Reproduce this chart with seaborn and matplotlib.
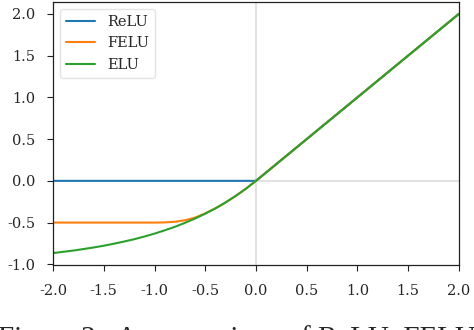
import matplotlib
matplotlib.use("Agg")
import matplotlib.pyplot as plt
import seaborn as sns
import pandas as pd

# ---- data ----
relu_x = [-2.0, 0.0, 2.0]
relu_y = [0.0, 0.0, 2.0]

neg_x = [-2.0, -1.9, -1.8, -1.7, -1.6, -1.5, -1.4, -1.3, -1.2, -1.1, -1.0,
         -0.9, -0.8, -0.7, -0.6, -0.5, -0.4, -0.3, -0.2, -0.1, 0.0, 2.0]
elu_y = [-0.865, -0.850, -0.835, -0.817, -0.798, -0.777, -0.753, -0.727,
         -0.699, -0.667, -0.632, -0.593, -0.551, -0.503, -0.451, -0.393,
         -0.330, -0.259, -0.181, -0.095, 0.0, 2.0]
felu_y = [-0.500, -0.500, -0.500, -0.500, -0.500, -0.500, -0.500, -0.500,
          -0.500, -0.500, -0.500, -0.498, -0.490, -0.472, -0.440, -0.390,
          -0.330, -0.259, -0.181, -0.095, 0.0, 2.0]

series_names = ["ReLU", "FELU", "ELU"]
x_ticks = [-2.0, -1.5, -1.0, -0.5, 0.0, 0.5, 1.0, 1.5, 2.0]
y_ticks = [-1.0, -0.5, 0.0, 0.5, 1.0, 1.5, 2.0]
caption = "Figure 2:  A comparison of ReLU, FELU"

df = pd.concat([
    pd.DataFrame({"x": relu_x, "y": relu_y, "fn": series_names[0]}),
    pd.DataFrame({"x": neg_x, "y": felu_y, "fn": series_names[1]}),
    pd.DataFrame({"x": neg_x, "y": elu_y, "fn": series_names[2]}),
], ignore_index=True)

sns.set_style("ticks")
plt.rcParams["font.family"] = ["DejaVu Serif"]

fig = plt.figure(figsize=(4.74, 3.30), dpi=100)
ax = fig.add_axes([0.112, 0.197, 0.856, 0.797])

ax.axvline(0, color="#dddddd", lw=1.2, zorder=0)
ax.axhline(0, color="#dddddd", lw=1.2, zorder=0)

sns.lineplot(data=df, x="x", y="y", hue="fn", hue_order=series_names,
             palette=["#1f77b4", "#ff7f0e", "#2ca02c"], sort=False,
             estimator=None, lw=1.5, ax=ax)

ax.set_xlim(-2, 2)
ax.set_ylim(-1.008, 2.143)
ax.set_xticks(x_ticks)
ax.set_xticklabels([f"{t:.1f}" for t in x_ticks])
ax.set_yticks(y_ticks)
ax.set_yticklabels([f"{t:.1f}" for t in y_ticks])
ax.set_xlabel("")
ax.set_ylabel("")
ax.tick_params(labelsize=10.5, length=4, width=0.8, color="#222222")
ax.tick_params(axis="x", pad=9.5)
ax.tick_params(axis="y", pad=9)
for s in ax.spines.values():
    s.set_visible(True)
    s.set_color("#222222")
    s.set_linewidth(0.9)

leg = ax.legend(loc="upper left", fontsize=10.5, frameon=True,
                handlelength=2.0, borderaxespad=0.5)
leg.get_frame().set_edgecolor("#dddddd")

fig.text(-0.005, -0.049, caption, fontsize=21, family=["Liberation Serif"],
         ha="left", va="baseline")

fig.savefig("out.png", dpi=100)
